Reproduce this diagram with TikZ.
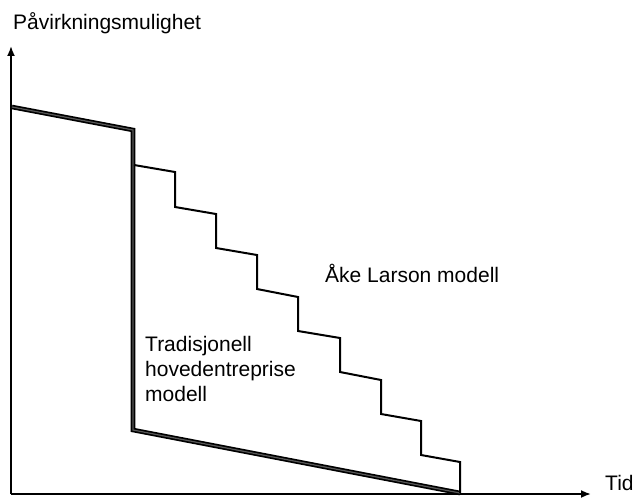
\documentclass[tikz,border=0pt]{standalone}
\usepackage{fontspec}
\setmainfont{Liberation Sans}
\usetikzlibrary{arrows.meta}
\begin{document}
\begin{tikzpicture}[x=1pt,y=-1pt,
  axis/.style={line width=1.8pt, -{Latex[length=10pt,width=8pt]}},
  thickline/.style={draw=black, line width=1.7pt, double=gray!70!black, double distance=1.2pt, line join=miter},
  stair/.style={line width=2pt, line join=miter},
  lbl/.style={inner sep=0pt, font=\fontsize{21}{25}\selectfont}]
\useasboundingbox (0,0) rectangle (634,500);
% axes
\coordinate (O) at (11,494);
\coordinate (Ytop) at (11,46);
\coordinate (Xend) at (591,494);
\draw[axis] (O) -- (Ytop);
\draw[axis] (O) -- (Xend);
% traditional model (thick)
\coordinate (t1) at (12,107);
\coordinate (t2) at (133,130);
\coordinate (t3) at (133,430);
\coordinate (t4) at (460,493);
\draw[thickline] (t1) -- (t2) -- (t3) -- (t4);
% Åke Larson staircase
\draw[stair] (134,165) -- (175,172) -- (175,207) -- (216,214) -- (216,248)
  -- (257,255) -- (257,289) -- (298,297) -- (298,331) -- (340,338) -- (340,372)
  -- (381,380) -- (381,414) -- (421,421) -- (421,455) -- (460,462) -- (t4);
% labels
\node[lbl, anchor=base west] (ylab) at (13,30) {Påvirkningsmulighet};
\node[lbl, anchor=base west] (xlab) at (605,490) {Tid};
\node[lbl, anchor=base west] (ake) at (325,282) {Åke Larson modell};
\node[lbl, anchor=north west, align=left] (trad) at (145,336) {Tradisjonell\\hovedentreprise\\modell};
\end{tikzpicture}
\end{document}
